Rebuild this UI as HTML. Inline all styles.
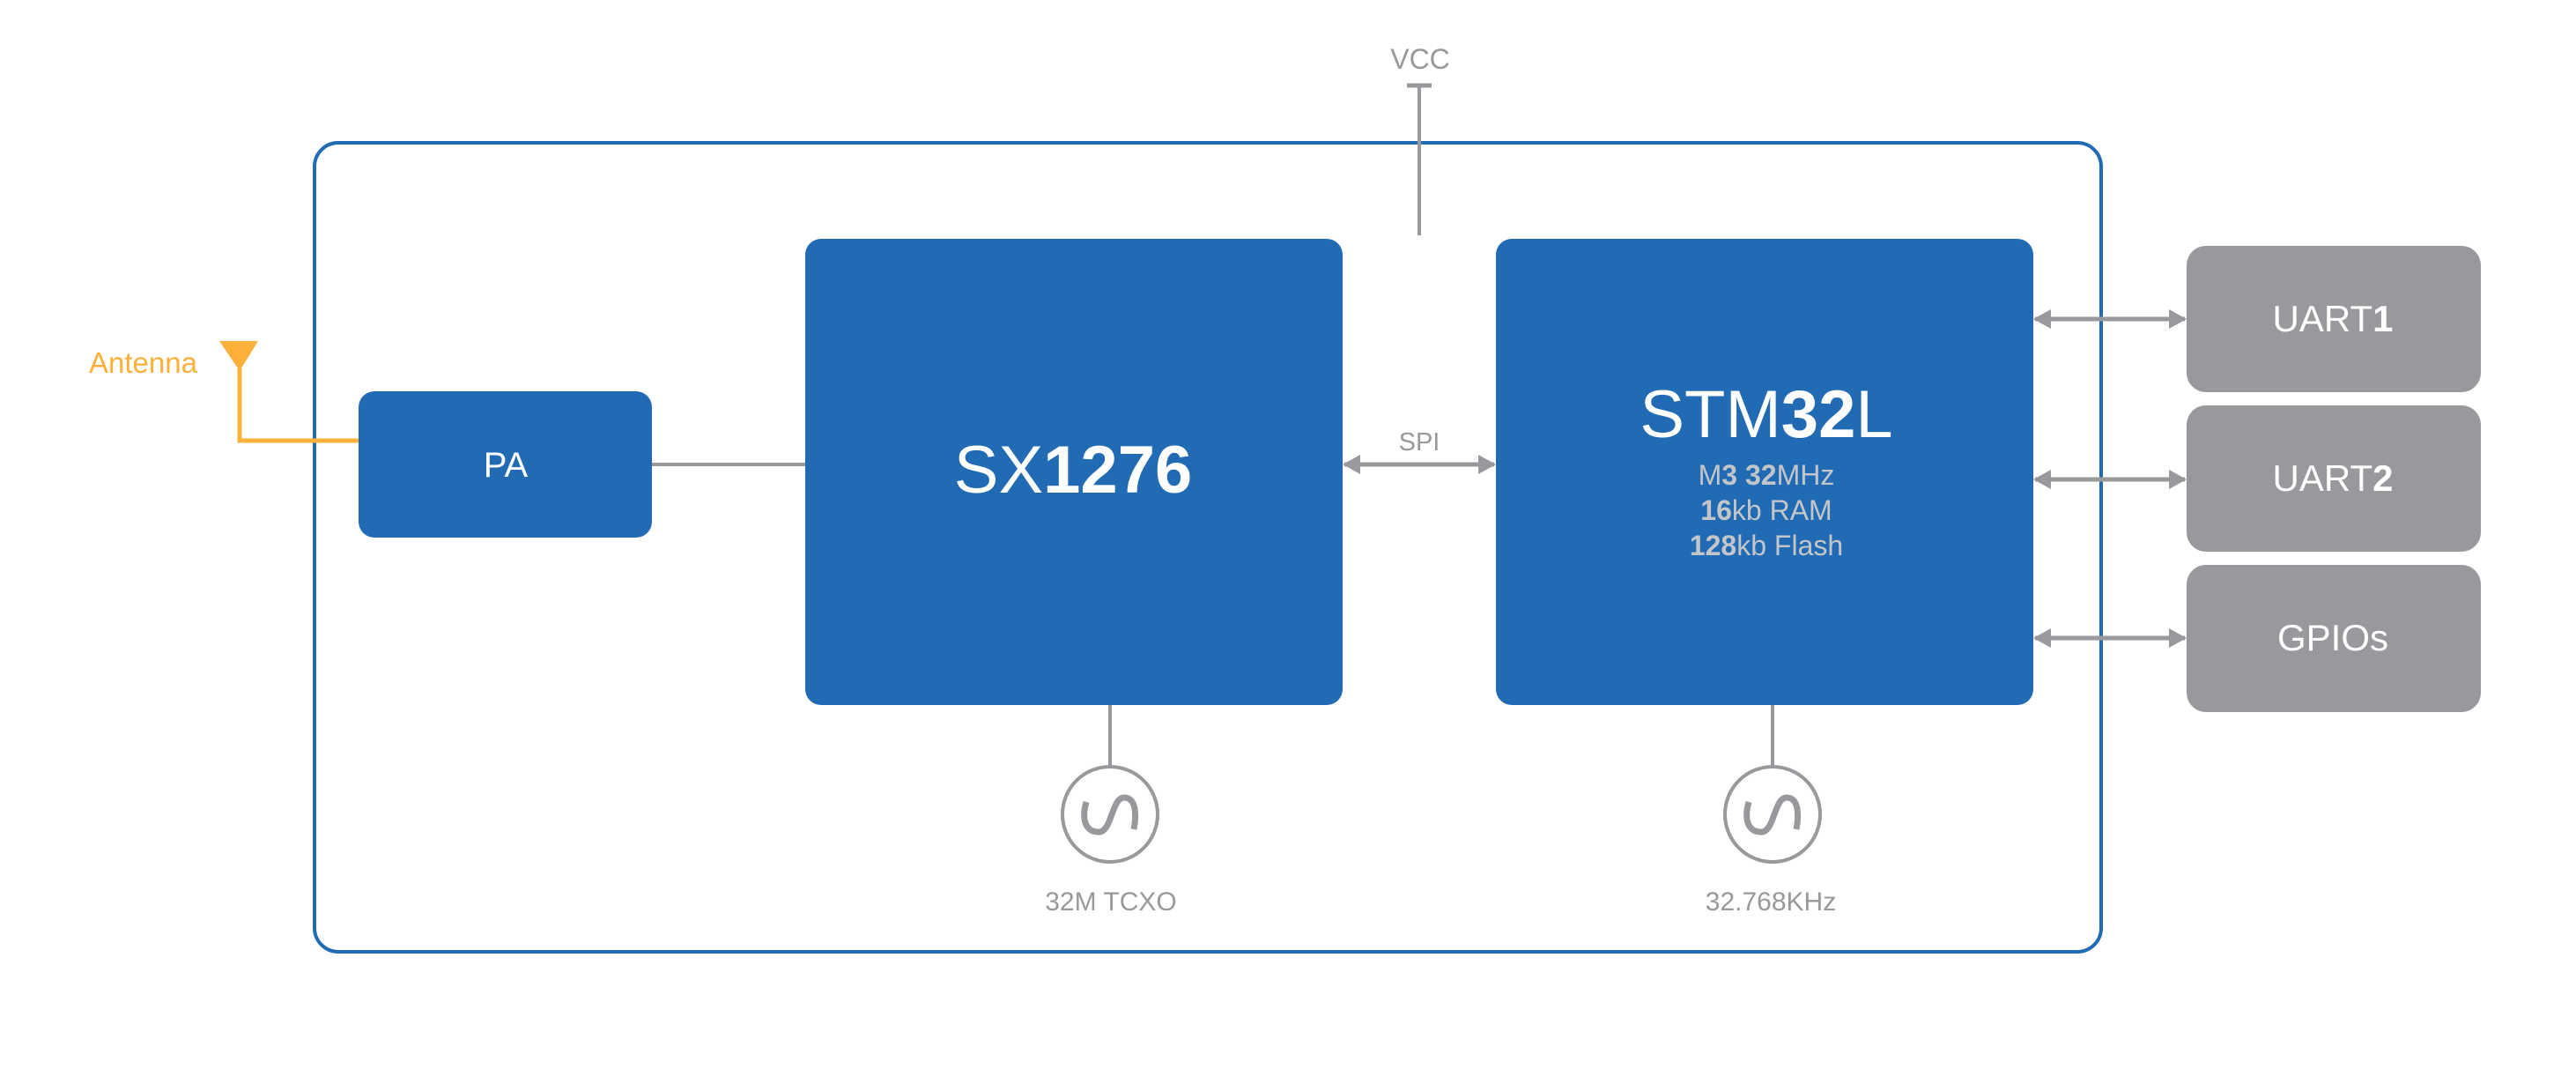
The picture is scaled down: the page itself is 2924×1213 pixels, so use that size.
<!DOCTYPE html>
<html><head><meta charset="utf-8"><style>
html,body{margin:0;padding:0;background:#fff;}
svg{display:block;}
text{font-family:"Liberation Sans",sans-serif;}
</style></head><body>
<svg width="2924" height="1213" viewBox="0 0 2924 1213" xmlns="http://www.w3.org/2000/svg">
<defs>
<marker id="ah" markerWidth="20" markerHeight="22" refX="18" refY="11" orient="auto-start-reverse" markerUnits="userSpaceOnUse">
<path d="M0,0 L20,11 L0,22 Z" fill="#98999c"/>
</marker>
</defs>
<!-- outer box -->
<rect x="357" y="162" width="2028" height="918" rx="27" ry="27" fill="none" stroke="#216bb5" stroke-width="4"/>
<!-- VCC -->
<text x="1612" y="78" font-size="32" fill="#98999c" text-anchor="middle">VCC</text>
<line x1="1597" y1="97" x2="1625" y2="97" stroke="#98999c" stroke-width="5"/>
<line x1="1611" y1="97" x2="1611" y2="267" stroke="#98999c" stroke-width="4"/>
<!-- antenna -->
<text x="101" y="423" font-size="33" fill="#fdb03a">Antenna</text>
<polygon points="249,387 293,387 272,421" fill="#fdb03a"/>
<polyline points="272,418 272,500 410,500" fill="none" stroke="#fdb03a" stroke-width="5"/>
<!-- PA -->
<rect x="407" y="444" width="333" height="166" rx="18" fill="#216bb5"/>
<text x="574" y="541" font-size="40" fill="#fff" text-anchor="middle">PA</text>
<line x1="740" y1="527" x2="915" y2="527" stroke="#98999c" stroke-width="4"/>
<!-- SX1276 -->
<rect x="914" y="271" width="610" height="529" rx="18" fill="#216bb5"/>
<text x="1218" y="559" font-size="76" fill="#fff" text-anchor="middle">SX<tspan font-weight="bold">1276</tspan></text>
<!-- SPI -->
<text x="1611" y="511" font-size="29" fill="#98999c" text-anchor="middle">SPI</text>
<line x1="1526" y1="527" x2="1696" y2="527" stroke="#98999c" stroke-width="5" marker-start="url(#ah)" marker-end="url(#ah)"/>
<!-- STM32L -->
<rect x="1698" y="271" width="610" height="529" rx="18" fill="#216bb5"/>
<text x="2005" y="496" font-size="76" fill="#fff" text-anchor="middle">STM<tspan font-weight="bold">32</tspan>L</text>
<text x="2005" y="550" font-size="32" fill="#c3c5c9" text-anchor="middle">M<tspan font-weight="bold">3 32</tspan>MHz</text>
<text x="2005" y="590" font-size="32" fill="#c3c5c9" text-anchor="middle"><tspan font-weight="bold">16</tspan>kb RAM</text>
<text x="2005" y="630" font-size="32" fill="#c3c5c9" text-anchor="middle"><tspan font-weight="bold">128</tspan>kb Flash</text>
<!-- right arrows -->
<line x1="2310" y1="362" x2="2480" y2="362" stroke="#98999c" stroke-width="5" marker-start="url(#ah)" marker-end="url(#ah)"/>
<line x1="2310" y1="544" x2="2480" y2="544" stroke="#98999c" stroke-width="5" marker-start="url(#ah)" marker-end="url(#ah)"/>
<line x1="2310" y1="724" x2="2480" y2="724" stroke="#98999c" stroke-width="5" marker-start="url(#ah)" marker-end="url(#ah)"/>
<!-- grey boxes -->
<rect x="2482" y="279" width="334" height="166" rx="22" fill="#98999c"/>
<text x="2648" y="376" font-size="42" fill="#fff" text-anchor="middle">UART<tspan font-weight="bold">1</tspan></text>
<rect x="2482" y="460" width="334" height="166" rx="22" fill="#98999c"/>
<text x="2648" y="557" font-size="42" fill="#fff" text-anchor="middle">UART<tspan font-weight="bold">2</tspan></text>
<rect x="2482" y="641" width="334" height="167" rx="22" fill="#98999c"/>
<text x="2648" y="738" font-size="42" fill="#fff" text-anchor="middle">GPIOs</text>
<!-- crystals -->
<line x1="1260" y1="800" x2="1260" y2="870" stroke="#98999c" stroke-width="4"/>
<circle cx="1260" cy="924" r="54" fill="none" stroke="#98999c" stroke-width="4"/>
<path d="M1233,910 C1226,935 1236,945 1248,944 C1262,943 1262,905 1276,905 C1290,905 1290,925 1287,941" fill="none" stroke="#98999c" stroke-width="7"/>
<text x="1261" y="1033" font-size="30" fill="#98999c" text-anchor="middle">32M TCXO</text>
<line x1="2012" y1="800" x2="2012" y2="870" stroke="#98999c" stroke-width="4"/>
<circle cx="2012" cy="924" r="54" fill="none" stroke="#98999c" stroke-width="4"/>
<path d="M1985,910 C1978,935 1988,945 2000,944 C2014,943 2014,905 2028,905 C2042,905 2042,925 2039,941" fill="none" stroke="#98999c" stroke-width="7"/>
<text x="2010" y="1033" font-size="30" fill="#98999c" text-anchor="middle">32.768KHz</text>
</svg>
</body></html>
